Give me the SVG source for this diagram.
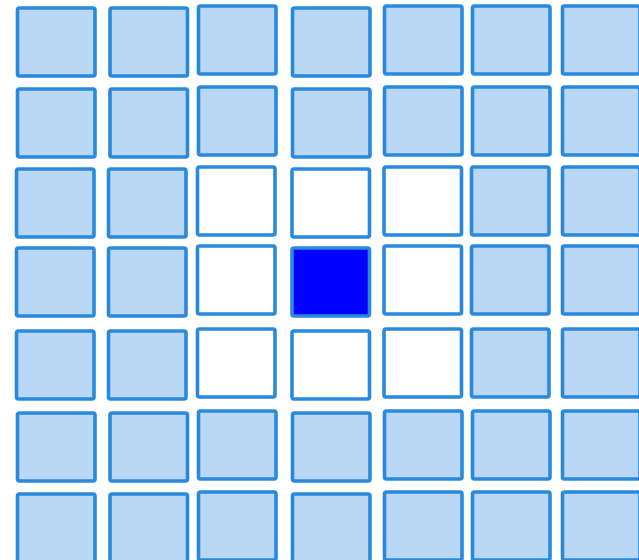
<svg xmlns="http://www.w3.org/2000/svg" width="639" height="560" viewBox="0 0 639 560">
<style>
rect{stroke:#2889dd;stroke-width:3.6;rx:2px}
.c{fill:#bad7f6}
.w{fill:#ffffff}
.s{fill:#0000ff}
</style>
<rect x="0" y="0" width="639" height="560" fill="#ffffff" style="stroke:none"/>
<g id="r0">
<g id="n0_0"><rect class="c" x="17.5" y="8" width="77.5" height="68"/></g>
<g id="n0_1"><rect class="c" x="110" y="8" width="77.5" height="68"/></g>
<g id="n0_2"><rect class="c" x="198.5" y="6" width="77.5" height="68"/></g>
<g id="n0_3"><rect class="c" x="292.5" y="8" width="77.5" height="68"/></g>
<g id="n0_4"><rect class="c" x="384.5" y="6" width="77.5" height="68"/></g>
<g id="n0_5"><rect class="c" x="472.5" y="6" width="77.5" height="68"/></g>
<g id="n0_6"><rect class="c" x="562.5" y="6" width="77.5" height="68"/></g>
</g>
<g id="r1">
<g id="n1_0"><rect class="c" x="17.5" y="89" width="77.5" height="68"/></g>
<g id="n1_1"><rect class="c" x="110" y="89" width="77.5" height="68"/></g>
<g id="n1_2"><rect class="c" x="198.5" y="87" width="77.5" height="68"/></g>
<g id="n1_3"><rect class="c" x="292.5" y="89" width="77.5" height="68"/></g>
<g id="n1_4"><rect class="c" x="384.5" y="87" width="77.5" height="68"/></g>
<g id="n1_5"><rect class="c" x="472.5" y="87" width="77.5" height="68"/></g>
<g id="n1_6"><rect class="c" x="562.5" y="87" width="77.5" height="68"/></g>
</g>
<g id="r2">
<g id="n2_0"><rect class="c" x="16.5" y="169" width="77.5" height="68"/></g>
<g id="n2_1"><rect class="c" x="108.5" y="169" width="77.5" height="68"/></g>
<g id="n2_2"><rect class="w" x="197.5" y="167" width="77.5" height="68"/></g>
<g id="n2_3"><rect class="w" x="292" y="169" width="77.5" height="68"/></g>
<g id="n2_4"><rect class="w" x="384" y="167" width="77.5" height="68"/></g>
<g id="n2_5"><rect class="c" x="471.5" y="167" width="77.5" height="68"/></g>
<g id="n2_6"><rect class="c" x="562.5" y="167" width="77.5" height="68"/></g>
</g>
<g id="r3">
<g id="n3_0"><rect class="c" x="16.5" y="248" width="77.5" height="68"/></g>
<g id="n3_1"><rect class="c" x="108.5" y="248" width="77.5" height="68"/></g>
<g id="n3_2"><rect class="w" x="197.5" y="246" width="77.5" height="68"/></g>
<g id="n3_3"><rect class="s" x="292" y="248" width="77.5" height="68"/></g>
<g id="n3_4"><rect class="w" x="384" y="246" width="77.5" height="68"/></g>
<g id="n3_5"><rect class="c" x="471.5" y="246" width="77.5" height="68"/></g>
<g id="n3_6"><rect class="c" x="562.5" y="246" width="77.5" height="68"/></g>
</g>
<g id="r4">
<g id="n4_0"><rect class="c" x="16.5" y="331" width="77.5" height="68"/></g>
<g id="n4_1"><rect class="c" x="108.5" y="331" width="77.5" height="68"/></g>
<g id="n4_2"><rect class="w" x="197.5" y="329" width="77.5" height="68"/></g>
<g id="n4_3"><rect class="w" x="292" y="331" width="77.5" height="68"/></g>
<g id="n4_4"><rect class="w" x="384" y="329" width="77.5" height="68"/></g>
<g id="n4_5"><rect class="c" x="471.5" y="329" width="77.5" height="68"/></g>
<g id="n4_6"><rect class="c" x="562.5" y="329" width="77.5" height="68"/></g>
</g>
<g id="r5">
<g id="n5_0"><rect class="c" x="17.5" y="413" width="77.5" height="68"/></g>
<g id="n5_1"><rect class="c" x="110" y="413" width="77.5" height="68"/></g>
<g id="n5_2"><rect class="c" x="198.5" y="411" width="77.5" height="68"/></g>
<g id="n5_3"><rect class="c" x="292.5" y="413" width="77.5" height="68"/></g>
<g id="n5_4"><rect class="c" x="384.5" y="411" width="77.5" height="68"/></g>
<g id="n5_5"><rect class="c" x="472.5" y="411" width="77.5" height="68"/></g>
<g id="n5_6"><rect class="c" x="562.5" y="411" width="77.5" height="68"/></g>
</g>
<g id="r6">
<g id="n6_0"><rect class="c" x="17.5" y="494" width="77.5" height="68"/></g>
<g id="n6_1"><rect class="c" x="110" y="494" width="77.5" height="68"/></g>
<g id="n6_2"><rect class="c" x="198.5" y="492" width="77.5" height="68"/></g>
<g id="n6_3"><rect class="c" x="292.5" y="494" width="77.5" height="68"/></g>
<g id="n6_4"><rect class="c" x="384.5" y="492" width="77.5" height="68"/></g>
<g id="n6_5"><rect class="c" x="472.5" y="492" width="77.5" height="68"/></g>
<g id="n6_6"><rect class="c" x="562.5" y="492" width="77.5" height="68"/></g>
</g>
<g id="connectors"></g>
</svg>
